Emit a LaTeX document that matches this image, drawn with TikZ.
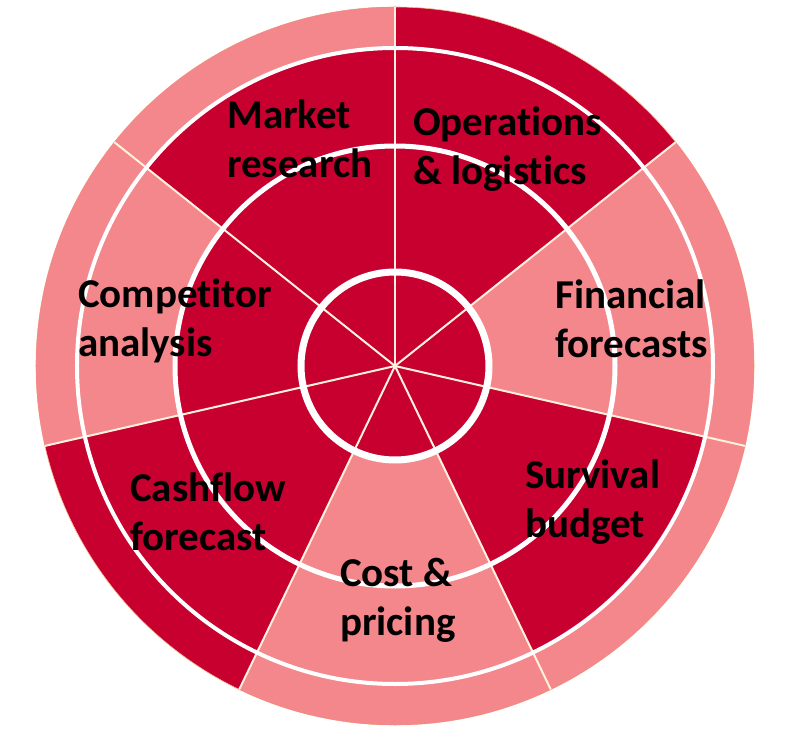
\documentclass[tikz,border=0pt]{standalone}
\usepackage{fontspec}
\setmainfont{Carlito}[Ligatures=NoCommon]
\usepackage{xcolor}
\usepackage{tikz}
\usetikzlibrary{positioning}

\definecolor{wheelred}{HTML}{C8002F}
\definecolor{wheelpink}{HTML}{F4878B}
\definecolor{spokecream}{HTML}{FFF1DC}
\definecolor{rimorange}{HTML}{F6BC8E}

\begin{document}
\begin{tikzpicture}[x=1pt, y=1pt,
  seglabel/.style={anchor=base west, align=left, inner sep=0pt,
    font=\fontsize{41}{49}\selectfont\bfseries},
  spoke/.style={spokecream, line width=2pt},
  ring/.style={white}]
  \useasboundingbox (-395,-375) rectangle (394,366);
  % --- Base disc (dark red) ---
  \coordinate (hub) at (0,0);
  \fill[wheelred, draw=rimorange, line width=0.6pt] (hub) circle (359);
  % --- Pink bands ---
  \fill[wheelpink] (38.571:94) arc[start angle=38.571, end angle=-12.857, radius=94]
    -- (-12.857:359) arc[start angle=-12.857, end angle=38.571, radius=359] -- cycle;
  \fill[wheelpink] (-12.857:318) arc[start angle=-12.857, end angle=-64.286, radius=318]
    -- (-64.286:359) arc[start angle=-64.286, end angle=-12.857, radius=359] -- cycle;
  \fill[wheelpink] (-64.286:94) arc[start angle=-64.286, end angle=-115.714, radius=94]
    -- (-115.714:359) arc[start angle=-115.714, end angle=-64.286, radius=359] -- cycle;
  \fill[wheelpink] (-167.143:220) arc[start angle=-167.143, end angle=-218.571, radius=220]
    -- (-218.571:359) arc[start angle=-218.571, end angle=-167.143, radius=359] -- cycle;
  \fill[wheelpink] (141.429:318) arc[start angle=141.429, end angle=90, radius=318]
    -- (90:359) arc[start angle=90, end angle=141.429, radius=359] -- cycle;
  % --- Spokes ---
  \draw[spoke] (hub) -- (90:359);
  \draw[spoke] (hub) -- (38.571:359);
  \draw[spoke] (hub) -- (-12.857:359);
  \draw[spoke] (hub) -- (-64.286:359);
  \draw[spoke] (hub) -- (-115.714:359);
  \draw[spoke] (hub) -- (-167.143:359);
  \draw[spoke] (hub) -- (141.429:359);
  % --- Rings ---
  \draw[ring, line width=7pt] (hub) circle (94);
  \draw[ring, line width=5pt] (hub) circle (220);
  \draw[ring, line width=4pt] (hub) circle (318);
  % --- Labels (anchored at the second line) ---
  \node[seglabel] (market) at (-168,188) {Market\\research};
  \node[seglabel] (operations) at (18,181) {Operations\\\& logistics};
  \node[seglabel] (financial) at (160,8) {Financial\\forecasts};
  \node[seglabel] (survival) at (130,-171) {Survival\\budget};
  \node[seglabel] (cost) at (-55,-269) {Cost \&\\pricing};
  \node[seglabel] (cashflow) at (-265,-184) {Cashflow\\forecast};
  \node[seglabel] (competitor) at (-317,9) {Competitor\\analysis};
\end{tikzpicture}
\end{document}
